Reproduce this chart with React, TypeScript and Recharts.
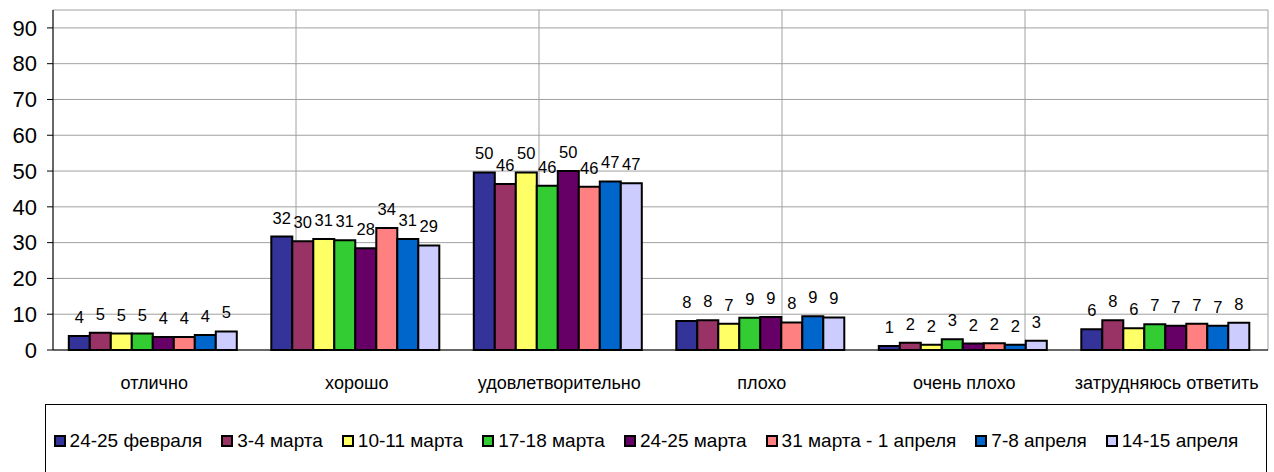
import React from 'react';
import { BarChart, Bar, XAxis, YAxis, CartesianGrid, LabelList, Legend } from 'recharts';

const FONT = '"Liberation Sans", Arial, Helvetica, sans-serif';

const categories = ['отлично', 'хорошо', 'удовлетворительно', 'плохо', 'очень плохо', 'затрудняюсь ответить'];

const seriesNames = [
  '24-25 февраля',
  '3-4 марта',
  '10-11 марта',
  '17-18 марта',
  '24-25 марта',
  '31 марта - 1 апреля',
  '7-8 апреля',
  '14-15 апреля',
];

const colors = ['#333399', '#993366', '#FFFF66', '#33CC33', '#660066', '#FF8080', '#0066CC', '#CCCCFF'];

const feb24 = [3.9, 31.7, 49.6, 8.1, 1.1, 5.8];
const mar3 = [4.8, 30.4, 46.4, 8.3, 2.0, 8.3];
const mar10 = [4.6, 31.0, 49.6, 7.3, 1.5, 6.1];
const mar17 = [4.6, 30.7, 45.9, 9.0, 3.0, 7.2];
const mar24 = [3.6, 28.4, 50.0, 9.2, 1.8, 6.8];
const mar31 = [3.6, 34.1, 45.6, 7.7, 1.9, 7.3];
const apr7 = [4.2, 31.0, 47.1, 9.4, 1.5, 6.8];
const apr14 = [5.2, 29.2, 46.6, 9.1, 2.6, 7.6];

const seriesValues = [feb24, mar3, mar10, mar17, mar24, mar31, apr7, apr14];

const yTicks = [0, 10, 20, 30, 40, 50, 60, 70, 80, 90];
const boundaryTicks = [0, 1, 2, 3, 4, 5, 6];

const data = categories.map((c, i) => {
  const row: Record<string, any> = { name: c };
  seriesValues.forEach((vals, j) => {
    row['s' + j] = vals[i];
  });
  return row;
});

const LegendBox = () => (
  <div
    style={{
      width: 1222,
      height: 100,
      border: '1px solid #000',
      boxSizing: 'border-box',
      display: 'flex',
      justifyContent: 'center',
      alignItems: 'flex-start',
      paddingTop: 25,
      paddingRight: 20,
      gap: 19,
      fontFamily: FONT,
      fontSize: 19,
      color: '#000',
      background: '#fff',
    }}
  >
    {seriesNames.map((n, j) => (
      <div key={n} style={{ display: 'flex', alignItems: 'center', whiteSpace: 'nowrap' }}>
        <span
          style={{
            width: 8,
            height: 8,
            border: '2px solid #000',
            background: colors[j],
            marginRight: 4,
            display: 'inline-block',
          }}
        />
        <span>{n}</span>
      </div>
    ))}
  </div>
);

export default function App() {
  return (
    <div style={{ position: 'absolute', left: 0, top: 0, width: 1274, height: 472, background: '#fff' }}>
      <BarChart
        width={1274}
        height={472}
        data={data}
        margin={{ top: 10, right: 6, left: 0, bottom: 72 }}
        barCategoryGap="7.8%"
        barGap={0}
      >
        <CartesianGrid xAxisId="grid" stroke="#a0a0a0" strokeWidth={1} />
        <XAxis
          xAxisId="grid"
          type="number"
          domain={[0, 6]}
          ticks={boundaryTicks}
          allowDataOverflow
          height={0}
          axisLine={false}
          tickLine={{ stroke: '#000' }}
          tickSize={5}
          tickFormatter={() => ''}
        />
        <XAxis
          dataKey="name"
          interval={0}
          height={50}
          axisLine={{ stroke: '#000', strokeWidth: 1 }}
          tickLine={false}
          tickMargin={20}
          tick={{ fontSize: 18, fill: '#000', fontFamily: FONT }}
        />
        <YAxis
          type="number"
          domain={[0, 95]}
          ticks={yTicks}
          width={53}
          axisLine={{ stroke: '#000', strokeWidth: 1 }}
          tickLine={{ stroke: '#000' }}
          tickSize={6}
          tickMargin={10}
          tick={{ fontSize: 22, fill: '#000', fontFamily: FONT }}
        />
        <Legend
          layout="horizontal"
          verticalAlign="middle"
          align="center"
          content={<LegendBox />}
          wrapperStyle={{ left: 45, top: 404, width: 1222, height: 100 }}
        />
        {seriesNames.map((n, j) => (
          <Bar
            key={n}
            name={n}
            dataKey={'s' + j}
            fill={colors[j]}
            stroke="#000"
            strokeWidth={2}
            isAnimationActive={false}
          >
            <LabelList
              dataKey={'s' + j}
              position="top"
              offset={13}
              formatter={(v: any) => Math.round(Number(v))}
              style={{ fontSize: 16.5, fill: '#000', fontFamily: FONT }}
            />
          </Bar>
        ))}
      </BarChart>
    </div>
  );
}
